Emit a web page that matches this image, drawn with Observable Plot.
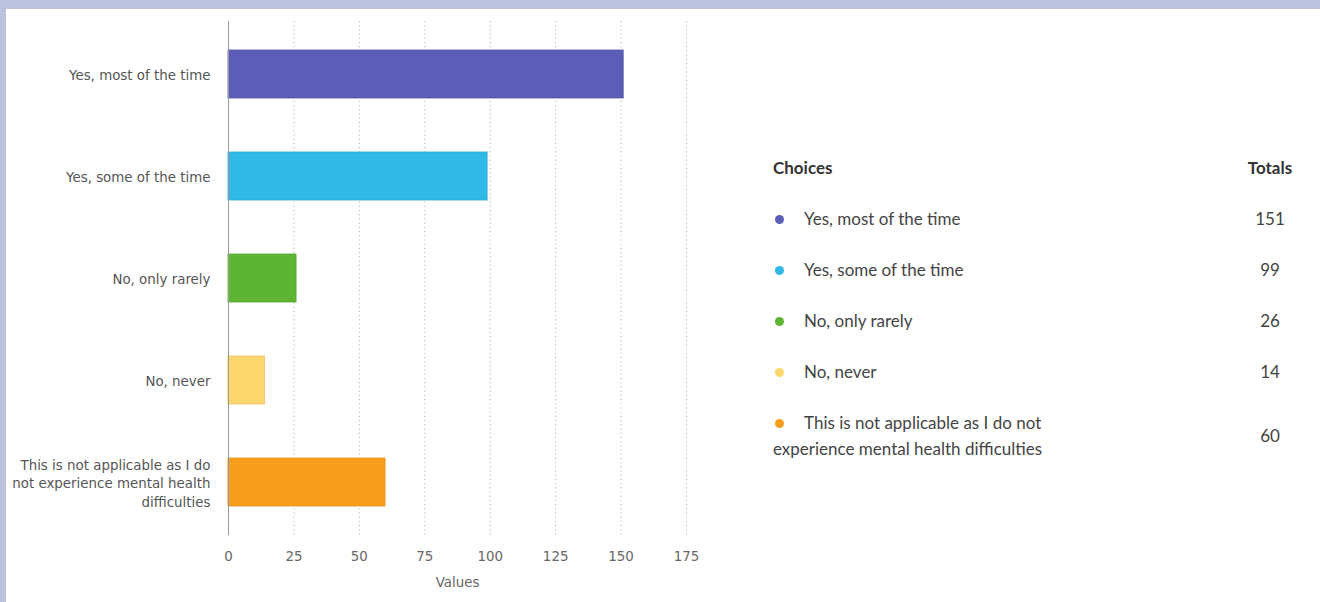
<!DOCTYPE html>
<html><head><meta charset="utf-8">
<script src="https://cdn.jsdelivr.net/npm/d3@7"></script>
<script src="https://cdn.jsdelivr.net/npm/@observablehq/plot@0.6"></script>
<style>
html,body{margin:0;padding:0;}
body{width:1320px;height:602px;background:#bcc1dd;position:relative;overflow:hidden;}
#panel{position:absolute;left:6px;top:9px;right:0;bottom:0;background:#fff;}
#chart{position:absolute;left:0;top:0;}
#legend{position:absolute;left:773px;top:142px;width:540px;font-family:Lato,"Open Sans",sans-serif;font-size:17px;color:#444;}
.row{display:flex;align-items:center;padding:12.5px 0;line-height:26px;}
.c1{width:290px;}
.c2{margin-left:167px;width:80px;text-align:center;}
.head{font-weight:700;color:#333;}
.dot{display:inline-block;width:9px;height:9px;border-radius:50%;margin-left:1.5px;margin-right:20.5px;vertical-align:1px;}
</style>
</head><body>
<div id="panel"></div>
<div id="chart"></div>
<div id="legend"></div>
<script>
const choices = [
  "Yes, most of the time",
  "Yes, some of the time",
  "No, only rarely",
  "No, never",
  "This is not applicable as I do not experience mental health difficulties"
];
const totals = [151, 99, 26, 14, 60];
const colors = ["#5b5db6", "#30b8e6", "#5db534", "#fdd76c", "#f79e1c"];
const yTickLabels = [
  "Yes, most of the time",
  "Yes, some of the time",
  "No, only rarely",
  "No, never",
  "This is not applicable as I do\nnot experience mental health\ndifficulties"
];
const xTicks = [0, 25, 50, 75, 100, 125, 150, 175];

const data = choices.map((c, i) => ({choice: c, value: totals[i]}));
const strokeOf = c => d3.color(colors[choices.indexOf(c)]).darker(0.25).formatHex();

const chart = Plot.plot({
  width: 720,
  height: 602,
  marginLeft: 228,
  marginRight: 34,
  marginTop: 21,
  marginBottom: 67,
  style: {background: "transparent", fontFamily: "'DejaVu Sans', sans-serif", fontSize: "13.4px", color: "#555", overflow: "visible"},
  x: {domain: [0, 175], ticks: xTicks},
  y: {domain: choices, paddingInner: 0.533, paddingOuter: 0.267},
  color: {domain: choices, range: colors},
  marks: [
    Plot.gridX(xTicks.slice(1), {stroke: "#b5b5b5", strokeOpacity: 1, strokeDasharray: "1.2,3"}),
    Plot.barX(data, {x: "value", y: "choice", fill: "choice", stroke: d => strokeOf(d.choice), strokeWidth: 0.8}),
    Plot.ruleX([0], {stroke: "#999"}),
    Plot.axisX({ticks: xTicks, tickSize: 0, tickPadding: 16, fill: "#666", label: "Values", labelAnchor: "center", labelArrow: "none", labelOffset: 51}),
    Plot.axisY({tickSize: 0, tickPadding: 18, fill: "#555", tickFormat: d => yTickLabels[choices.indexOf(d)], lineHeight: 1.38, label: null})
  ]
});
document.getElementById("chart").appendChild(chart);

const legend = document.getElementById("legend");
let html = '<div class="row head"><div class="c1">Choices</div><div class="c2">Totals</div></div>';
choices.forEach((c, i) => {
  html += `<div class="row"><div class="c1"><span class="dot" style="background:${colors[i]}"></span>${c}</div><div class="c2">${totals[i]}</div></div>`;
});
legend.innerHTML = html;
</script>
</body></html>
